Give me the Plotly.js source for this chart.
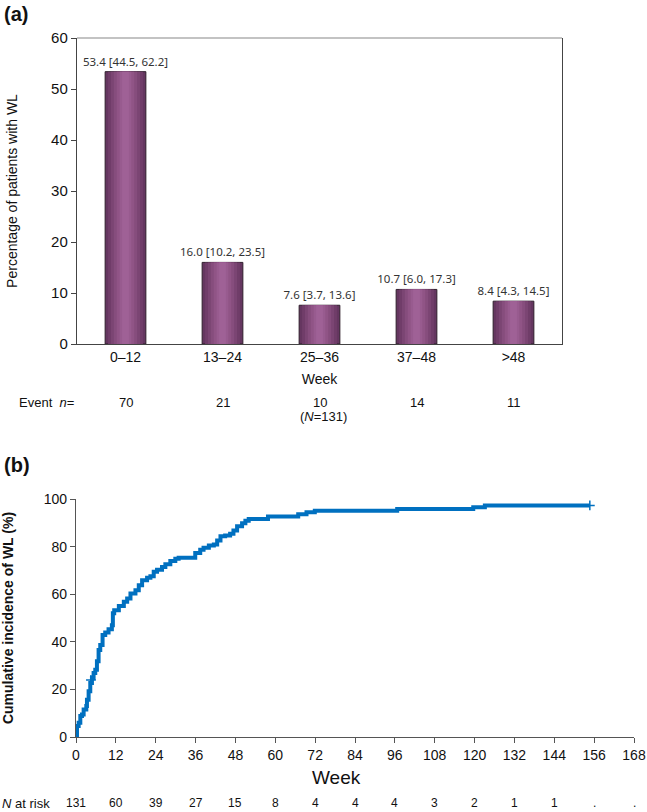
<!DOCTYPE html>
<html>
<head>
<meta charset="utf-8">
<script src="https://cdn.plot.ly/plotly-3.0.1.min.js"></script>
<style>html,body{margin:0;padding:0;background:#fff;}#chart{width:647px;height:812px;}</style>
</head>
<body>
<div id="chart"></div>
<script>
// ---- Panel (a) data ----
const weekBins = ["0–12", "13–24", "25–36", "37–48", ">48"];
const pctWL = [53.4, 16.0, 7.6, 10.7, 8.4];
const ciLow = [44.5, 10.2, 3.7, 6.0, 4.3];
const ciHigh = [62.2, 23.5, 13.6, 17.3, 14.5];
const eventN = [70, 21, 10, 14, 11];

// ---- Panel (b) data ----
const weeks = [0,0.3,0.8,1.3,1.8,2.3,3.1,3.3,3.8,4.3,4.8,5.3,5.8,6.3,6.8,7.3,8,8.8,9.8,10.8,11.1,11.5,12.9,14.4,15.4,16.4,17.9,18.9,19.9,21.4,22.4,23.4,24.4,25.9,26.9,28.4,29.9,30.9,35.9,37.4,38.4,40,41.5,42.5,43.5,44.9,46.4,47.4,48.5,50,51,52,57.8,66.9,69.4,71.9,96.7,119.6,123.1,154.7];
const cumInc = [0,4.6,6,8.8,9.5,11.6,13,15.7,19.2,22.7,24.8,26.9,28.3,31.8,36.6,38.7,42.9,43.9,45.3,47,52,53.3,55,56.8,58.2,60.3,61.7,63.8,65.9,66.9,67.5,69.4,70.3,71.4,72.6,74,74.9,75.3,77.3,78.7,79.5,80.5,80.9,82.6,84.3,84.7,85.4,86.8,88.6,89.8,90.9,91.6,92.6,93.6,94.4,95.1,95.8,96.5,97.3,97.3];
const censorWeeks = [4.5, 154.7];
const censorPct = [24.0, 97.3];
const riskWeeks = [0,12,24,36,48,60,72,84,96,108,120,132,144,156,168];
const atRisk = ["131","60","39","27","15","8","4","4","4","3","2","1","1",".","."];

const W = 647, H = 812;
const fx = px => px / W;
const fy = py => 1 - py / H;

const barLabels = pctWL.map((v, i) => v.toFixed(1) + " [" + ciLow[i].toFixed(1) + ", " + ciHigh[i].toFixed(1) + "]");

// gradient simulation via overlaid bars
const layerWidths = [0.42, 0.36, 0.30, 0.24, 0.18, 0.12, 0.07];
const layerColors = ["#653660", "#703d69", "#7b4573", "#864d7d", "#905486", "#985b8f", "#9f6196"];
const traces = [];
layerWidths.forEach((w, k) => {
  const t = {
    type: "bar", x: weekBins, y: pctWL, width: w,
    xaxis: "x", yaxis: "y",
    marker: {color: layerColors[k], line: {width: k === 0 ? 1 : 0, color: "#2f1f2c"}},
    hoverinfo: "skip", showlegend: false
  };
  if (k === 0) {
    t.text = barLabels;
    t.textposition = "outside";
    t.constraintext = "none";
    t.cliponaxis = false;
    t.textfont = {family: "Noto Sans, Open Sans, sans-serif", size: 11.5, color: "#333"};
  }
  traces.push(t);
});

traces.push({
  type: "scatter", mode: "lines", x: weeks, y: cumInc,
  xaxis: "x2", yaxis: "y2",
  line: {shape: "hv", color: "#0070C0", width: 4},
  showlegend: false, cliponaxis: false
});
traces.push({
  type: "scatter", mode: "markers", x: censorWeeks, y: censorPct,
  xaxis: "x2", yaxis: "y2",
  marker: {symbol: "cross-thin-open", size: 7, color: "#0070C0", line: {width: 1.5, color: "#0070C0"}},
  showlegend: false, cliponaxis: false
});

const ann = [];
ann.push({text: "<b>(a)</b>", x: fx(2), y: fy(14), xref: "paper", yref: "paper", xanchor: "left", yanchor: "middle", showarrow: false, font: {family: "Liberation Sans, Arial", size: 20, color: "#111"}});
ann.push({text: "<b>(b)</b>", x: fx(2), y: fy(465), xref: "paper", yref: "paper", xanchor: "left", yanchor: "middle", showarrow: false, font: {family: "Liberation Sans, Arial", size: 20, color: "#111"}});
ann.push({text: "Event  <i>n</i>=", x: fx(17), y: fy(402), xref: "paper", yref: "paper", xanchor: "left", yanchor: "middle", showarrow: false, font: {family: "Liberation Sans, Arial", size: 13, color: "#111"}});
weekBins.forEach((c, i) => {
  ann.push({text: String(eventN[i]), x: c, y: fy(402), xref: "x", yref: "paper", xanchor: "center", yanchor: "middle", showarrow: false, font: {family: "Liberation Sans, Arial", size: 13, color: "#111"}});
});
ann.push({text: "(<i>N</i>=131)", x: fx(323), y: fy(416), xref: "paper", yref: "paper", xanchor: "center", yanchor: "middle", showarrow: false, font: {family: "Liberation Sans, Arial", size: 13, color: "#111"}});
ann.push({text: "<i>N</i> at risk", x: fx(0), y: fy(803), xref: "paper", yref: "paper", xanchor: "left", yanchor: "middle", showarrow: false, font: {family: "Liberation Sans, Arial", size: 13, color: "#111"}});
riskWeeks.forEach((wk, i) => {
  ann.push({text: atRisk[i], x: wk, y: fy(803), xref: "x2", yref: "paper", xanchor: "center", yanchor: "middle", showarrow: false, font: {family: "Liberation Sans Narrow, Liberation Sans, Arial", size: 12, color: "#111"}});
});
ann.push({text: "Week", x: fx(336), y: fy(777), xref: "paper", yref: "paper", xanchor: "center", yanchor: "middle", showarrow: false, font: {family: "Liberation Sans, Arial", size: 19, color: "#111"}});

const layout = {
  width: W, height: H,
  margin: {l: 0, r: 0, t: 0, b: 0},
  paper_bgcolor: "#fff", plot_bgcolor: "#fff",
  barmode: "overlay",
  showlegend: false,
  xaxis: {
    domain: [fx(77), fx(562)], anchor: "y",
    type: "category",
    showline: true, linecolor: "#444", linewidth: 1.2,
    ticks: "", showgrid: false, zeroline: false,
    tickfont: {family: "Liberation Sans, Arial", size: 14, color: "#111"},
    title: {text: "Week", font: {family: "Liberation Sans, Arial", size: 14, color: "#111"}, standoff: 10}
  },
  yaxis: {
    domain: [fy(344), fy(38)], anchor: "x",
    range: [0, 60], dtick: 10,
    showline: true, linecolor: "#444", linewidth: 1.2, mirror: true,
    ticks: "outside", ticklen: 5, tickcolor: "#444",
    showgrid: false, zeroline: false,
    tickfont: {family: "Liberation Sans, Arial", size: 15, color: "#111"},
    title: {text: "Percentage of patients with WL", font: {family: "Liberation Sans, Arial", size: 14, color: "#111"}, standoff: 30}
  },
  xaxis2: {
    domain: [fx(76), fx(634)], anchor: "y2",
    range: [0, 168], dtick: 12, tick0: 0,
    showline: true, linecolor: "#555", linewidth: 1.2,
    ticks: "outside", ticklen: 5, tickcolor: "#555",
    showgrid: false, zeroline: false,
    tickfont: {family: "Liberation Sans Narrow, Liberation Sans, Arial", size: 14, color: "#111"}
  },
  yaxis2: {
    domain: [fy(737), fy(499)], anchor: "x2",
    range: [0, 100], dtick: 20,
    showline: true, linecolor: "#555", linewidth: 1.2,
    ticks: "outside", ticklen: 5, tickcolor: "#555",
    showgrid: false, zeroline: false,
    tickfont: {family: "Liberation Sans Narrow, Liberation Sans, Arial", size: 14, color: "#111"},
    title: {text: "<b>Cumulative incidence of WL (%)</b>", font: {family: "Liberation Sans, Arial", size: 14, color: "#111"}, standoff: 30}
  },
  shapes: [
    {type: "line", xref: "x domain", yref: "y domain", x0: 0, x1: 1, y0: 1, y1: 1, line: {color: "#888", width: 1.2}}
  ],
  annotations: ann
};

Plotly.newPlot("chart", traces, layout, {displayModeBar: false, staticPlot: true});
</script>
</body>
</html>
